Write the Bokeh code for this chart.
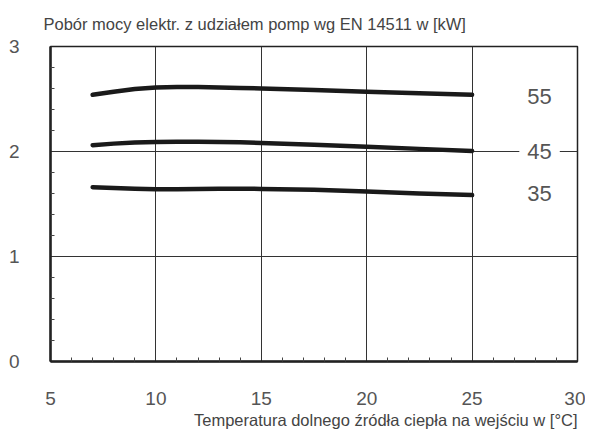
from bokeh.plotting import figure
from bokeh.models import FixedTicker, Label, Range1d, Title
from bokeh.embed import file_html
from bokeh.resources import INLINE

# Data
x_temp = [7, 8, 9, 10, 11, 12, 13, 14, 15, 17.5, 20, 22.5, 25]
s55 = [2.54, 2.57, 2.595, 2.61, 2.615, 2.615, 2.61, 2.605, 2.60, 2.585, 2.57, 2.555, 2.54]
s45 = [2.06, 2.075, 2.085, 2.09, 2.093, 2.093, 2.09, 2.087, 2.082, 2.065, 2.045, 2.025, 2.005]
s35 = [1.66, 1.652, 1.645, 1.64, 1.64, 1.643, 1.645, 1.645, 1.644, 1.635, 1.62, 1.60, 1.585]
series_names = ["55", "45", "35"]
label_x = 28.2
label_y = [2.52, 2.0, 1.6]
x_ticks = [5, 10, 15, 20, 25, 30]
x_minor = [6, 7, 8, 9, 11, 12, 13, 14, 16, 17, 18, 19, 21, 22, 23, 24, 26, 27, 28, 29]
y_ticks = [0, 1, 2, 3]
y_minor = [0.2, 0.4, 0.6, 0.8, 1.2, 1.4, 1.6, 1.8, 2.2, 2.4, 2.6, 2.8]
title_text = "Pobór mocy elektr. z udziałem pomp wg EN 14511 w [kW]"
xlabel_text = "Temperatura dolnego źródła ciepła na wejściu w [°C]"

FONT = "Liberation Sans"
TXT = "#555555"

p = figure(width=585, height=430, output_backend="svg", toolbar_location=None,
           x_range=Range1d(5, 30), y_range=Range1d(0, 3),
           min_border_left=50, min_border_right=8, min_border_top=46, min_border_bottom=69)

p.outline_line_color = "#222222"
p.outline_line_width = 1.5

for ax, ticks, minor in ((p.xaxis[0], x_ticks, x_minor), (p.yaxis[0], y_ticks, y_minor)):
    ax.ticker = FixedTicker(ticks=ticks, minor_ticks=minor)
    ax.axis_line_color = "#222222"
    ax.axis_line_width = 2.5
    ax.major_tick_in = 0
    ax.major_tick_out = 0
    ax.minor_tick_in = 4
    ax.minor_tick_out = 0
    ax.minor_tick_line_color = "#444444"
    ax.major_label_text_font = FONT
    ax.major_label_text_font_size = "19px"
    ax.major_label_text_color = TXT

p.xaxis.major_label_standoff = 30
p.yaxis.major_label_standoff = 31

p.xgrid.grid_line_color = "#333333"
p.ygrid.grid_line_color = "#333333"
p.xgrid.grid_line_width = 1
p.ygrid.grid_line_width = 1

for ys in (s55, s45, s35):
    p.line(x_temp, ys, line_color="#1a1a1a", line_width=4.5, line_cap="round", line_join="round")

for name, ly in zip(series_names, label_y):
    p.add_layout(Label(x=label_x, y=ly, text=name, text_align="center", text_baseline="middle",
                       text_font=FONT, text_font_size="22px", text_color=TXT,
                       background_fill_color="white", background_fill_alpha=1.0, padding=8))

p.title.text = title_text
p.title.align = "left"
p.title.vertical_align = "top"
p.title.offset = -7
p.title.text_font = FONT
p.title.text_font_size = "16.5px"
p.title.text_font_style = "normal"
p.title.text_color = "#444444"
p.title.standoff = 24

p.add_layout(Title(text=xlabel_text, align="right", text_font=FONT, text_font_size="16.5px",
                   text_font_style="normal", text_color="#444444", standoff=2, offset=0), "below")

open("out.html", "w").write(file_html(p, INLINE))
